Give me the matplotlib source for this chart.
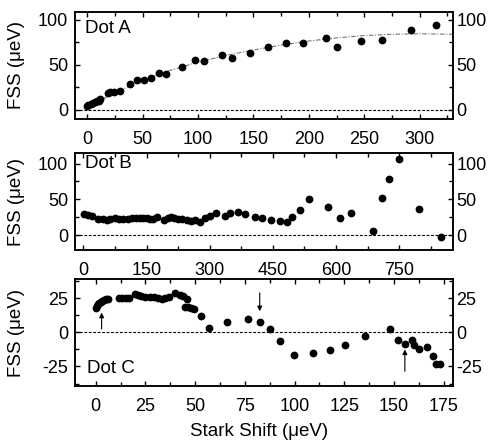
import matplotlib
matplotlib.use("Agg")
import matplotlib.pyplot as plt
from matplotlib.ticker import MultipleLocator

plt.rcParams['font.family'] = ['Liberation Sans', 'DejaVu Sans']
plt.rcParams['axes.unicode_minus'] = False
plt.rcParams['font.size'] = 13

# ---- data ----
a_x = [0, 1, 3, 5, 7, 9, 11, 12, 19, 21, 24, 30, 39, 45, 51, 58, 65, 71.5, 85.5,
       97.5, 105, 122, 130.5, 146.5, 163, 179, 194.5, 215.5, 225, 247, 266, 292.5, 315]
a_y = [4, 6, 6.5, 7.5, 8.5, 9.5, 10.5, 12.5, 18.5, 20, 19.5, 20.5, 29, 33, 33.5, 35.5,
       41, 40, 48, 55, 54, 61, 58, 63, 69.5, 74, 74.5, 80, 70, 76.5, 78, 89, 94]
fit_x = [0, 25, 50, 75, 100, 125, 150, 175, 200, 225, 250, 275, 300, 330]
fit_y = [3, 19, 33, 44, 53, 60.5, 66.5, 72, 76.5, 80, 82.5, 84, 84.5, 84]

b_x = [2, 12, 20, 35, 46, 55, 63, 75, 85, 95, 105, 115, 125, 134, 142, 150, 158, 166,
       175, 192, 200, 208, 216, 225, 235, 245, 255, 266, 276, 288, 300, 316, 336, 348,
       367, 385, 407, 424, 445, 468, 483, 495, 515, 535, 580, 610, 636, 687, 710, 725,
       750, 798, 850]
b_y = [29, 28, 27, 23, 22, 21, 22, 23.5, 22.5, 22.5, 22.5, 23.5, 24, 24, 24.5, 23.5,
       23, 22.5, 25.5, 21, 23.5, 25.5, 24, 23, 22, 21, 20, 20.5, 18.5, 24, 27, 31, 26.5,
       31.5, 32.5, 29, 25, 24.5, 21, 19, 18.5, 25.5, 35, 50, 39.5, 24.5, 31.5, 6, 52,
       78.5, 107, 36, -3]

c_x = [0, 0.5, 1, 1.5, 2.5, 3, 4, 5, 6, 11.5, 13, 15, 16.7, 20, 21.5, 23, 25, 27.3,
       29.3, 31.5, 33.5, 35, 37, 40, 42.5, 44, 45.7, 45, 46.5, 48, 49.5, 53, 57, 66,
       76.5, 82.7, 87.5, 92.5, 99.5, 109.5, 118, 125.5, 135.5, 148, 152, 155.5, 159.3,
       160, 162.5, 166.5, 169.5, 171.3, 173]
c_y = [17.5, 19, 20.5, 21.5, 22.3, 23.2, 24, 24.7, 24.7, 25.5, 25.5, 25.5, 25.5, 28,
       27.2, 26.5, 26, 26, 25.7, 25.2, 24.5, 25.2, 26, 29, 27.6, 26.4, 24.7, 18.6, 18.4,
       17.9, 17.1, 12, 3.3, 7.5, 10, 7.5, 2.7, -6.5, -16.8, -15.3, -13, -9.5, -3, 2.2,
       -5.8, -8.3, -5.6, -9, -12, -10.5, -17.5, -23, -23]

arrow_x = [3, 82.5, 155.5]
arrow_tail = [2.5, 29, -28.5]
arrow_head = [14.5, 15.5, -12.5]

labels = ["Dot A", "Dot B", "Dot C"]
ylabel = "FSS (\u03bceV)"
xlabel = "Stark Shift (\u03bceV)"

# ---- figure ----
fig = plt.figure(figsize=(4.93, 4.43), dpi=100)
L, W = 75 / 493, 378 / 493
axA = fig.add_axes([L, 324 / 443, W, 107.3 / 443])
axB = fig.add_axes([L, 193 / 443, W, 96.7 / 443])
axC = fig.add_axes([L, 57 / 443, W, 106.7 / 443])

cfg = [
    (axA, a_x, a_y, (-11, 330), (-10, 109), 50, 25, 50, 25, (0.026, 0.848)),
    (axB, b_x, b_y, (-20, 878), (-21, 114.4), 150, 75, 50, 25, (0.026, 0.897)),
    (axC, c_x, c_y, (-10.4, 179.7), (-39.3, 38.9), 25, 12.5, 25, 12.5, (0.033, 0.166)),
]

for (ax, xs, ys, xl, yl, xmaj, xmin, ymaj, ymin, tpos), lab in zip(cfg, labels):
    ax.plot(xs, ys, 'o', color='black', markersize=4.6, zorder=3)
    ax.axhline(0, color='black', lw=0.8, dashes=(2.5, 1.5), zorder=1)
    ax.set_xlim(*xl)
    ax.set_ylim(*yl)
    ax.xaxis.set_major_locator(MultipleLocator(xmaj))
    ax.xaxis.set_minor_locator(MultipleLocator(xmin))
    ax.yaxis.set_major_locator(MultipleLocator(ymaj))
    ax.yaxis.set_minor_locator(MultipleLocator(ymin))
    ax.tick_params(axis='both', which='both', direction='in', top=True, right=True,
                   width=1.0)
    ax.tick_params(axis='both', which='major', length=3.8)
    ax.tick_params(axis='both', which='minor', length=2.8)
    ax.tick_params(axis='x', which='major', pad=8.5, labelsize=13)
    ax.tick_params(axis='y', which='major', pad=5, labelsize=13, right=False)
    ax.tick_params(axis='y', which='minor', right=False)
    for s in ax.spines.values():
        s.set_linewidth(1.1)
    ax.text(tpos[0], tpos[1], lab, transform=ax.transAxes, ha='left', va='center',
            fontsize=13.5)
    ax.set_ylabel(ylabel, fontsize=13.5)
    ax.yaxis.set_label_coords(-0.132, 0.5)
    # right axis labels
    tw = ax.twinx()
    tw.set_ylim(*yl)
    tw.yaxis.set_major_locator(MultipleLocator(ymaj))
    tw.yaxis.set_minor_locator(MultipleLocator(ymin))
    tw.tick_params(axis='y', which='both', direction='in', width=1.0)
    tw.tick_params(axis='y', which='major', length=3.8, pad=2.5, labelsize=13)
    tw.tick_params(axis='y', which='minor', length=2.8)
    for s in tw.spines.values():
        s.set_linewidth(1.1)

axA.plot(fit_x, fit_y, color='0.45', lw=0.8, linestyle=(0, (4, 1.5, 1, 1.5)), zorder=2)

for x, t, h in zip(arrow_x, arrow_tail, arrow_head):
    axC.annotate('', xy=(x, h), xytext=(x, t),
                 arrowprops=dict(arrowstyle='-|>', color='black', lw=0.8,
                                 mutation_scale=7, shrinkA=0, shrinkB=0))

axC.set_xlabel(xlabel, fontsize=13.5)
axC.xaxis.set_label_coords(0.487, -0.35)

fig.savefig("out.png", dpi=100)
